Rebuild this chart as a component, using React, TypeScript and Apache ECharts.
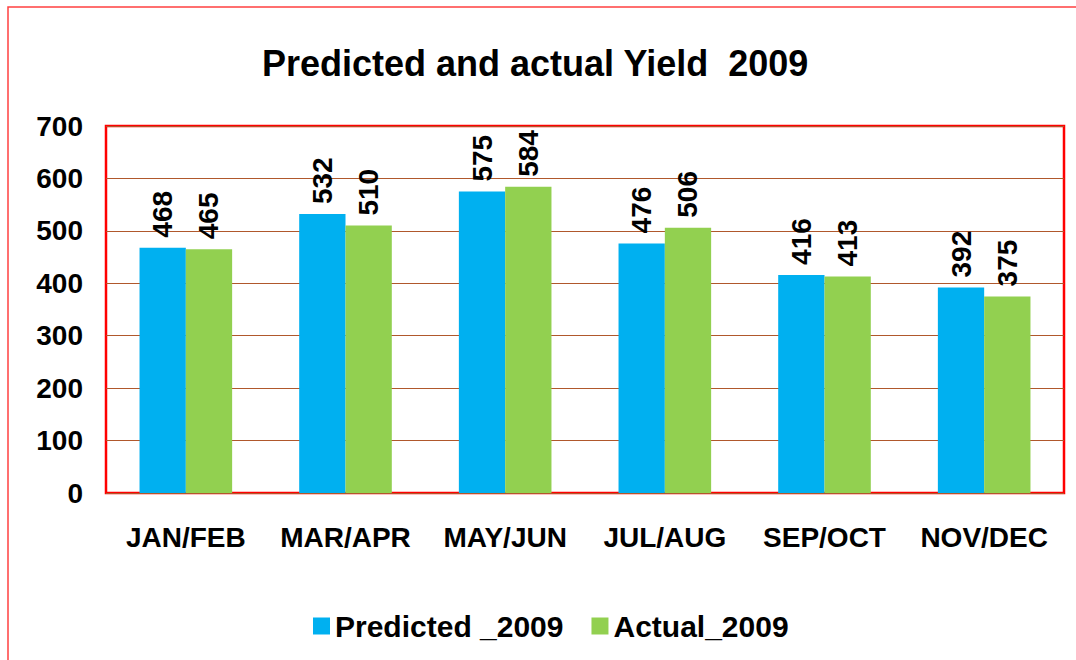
import React, { useEffect, useRef } from "react";
import * as echarts from "echarts";

const categories = ["JAN/FEB", "MAR/APR", "MAY/JUN", "JUL/AUG", "SEP/OCT", "NOV/DEC"];
const predicted = [468, 532, 575, 476, 416, 392];
const actual = [465, 510, 584, 506, 413, 375];
const seriesNames = ["Predicted _2009", "Actual_2009"];
const titleText = "Predicted and actual Yield  2009";

const FONT = "Arial, 'Liberation Sans', sans-serif";

export default function App() {
  const ref = useRef<HTMLDivElement>(null);
  useEffect(() => {
    if (!ref.current) return;
    const chart = echarts.init(ref.current, undefined, { renderer: "svg" });
    const label = {
      show: true,
      position: "top",
      rotate: 90,
      align: "left",
      verticalAlign: "middle",
      distance: 10,
      fontSize: 28,
      fontWeight: "bold",
      fontFamily: FONT,
      color: "#000",
    };
    chart.setOption({
      animation: false,
      backgroundColor: "#fff",
      title: {
        text: titleText,
        left: 257,
        top: 40,
        textStyle: { fontSize: 36, fontWeight: "bold", fontFamily: FONT, color: "#000" },
      },
      graphic: [
        {
          type: "rect",
          shape: { x: 8, y: 7, width: 3000, height: 3000 },
          style: { fill: "none", stroke: "#ff4040", lineWidth: 1.5 },
          silent: true,
        },
      ],
      legend: {
        data: seriesNames,
        left: 308,
        top: 606,
        itemWidth: 17,
        itemHeight: 17,
        itemGap: 28,
        icon: "rect",
        textStyle: { fontSize: 30, fontWeight: "bold", fontFamily: FONT, color: "#000" },
      },
      grid: {
        left: 106,
        top: 126,
        right: 12,
        bottom: 167,
        show: true,
        borderColor: "#ff0000",
        borderWidth: 2.5,
        containLabel: false,
      },
      xAxis: {
        type: "category",
        data: categories,
        axisLine: { show: false },
        axisTick: { show: false },
        axisLabel: { interval: 0, fontSize: 28, fontWeight: "bold", fontFamily: FONT, color: "#000", margin: 30 },
      },
      yAxis: {
        type: "value",
        min: 0,
        max: 700,
        interval: 100,
        axisLine: { show: false },
        axisTick: { show: false },
        axisLabel: { fontSize: 28, fontWeight: "bold", fontFamily: FONT, color: "#000", margin: 23 },
        splitLine: { lineStyle: { color: "#b0582c", width: 1 } },
      },
      series: [
        {
          name: seriesNames[0],
          type: "bar",
          data: predicted,
          itemStyle: { color: "#00b0f0" },
          barGap: "0%",
          barCategoryGap: "42%",
          label,
        },
        {
          name: seriesNames[1],
          type: "bar",
          data: actual,
          itemStyle: { color: "#92d050" },
          barGap: "0%",
          barCategoryGap: "42%",
          label,
        },
      ],
    });
    return () => chart.dispose();
  }, []);
  return (
    <div
      ref={ref}
      style={{ position: "fixed", left: 0, top: 0, width: 1076, height: 660 }}
    />
  );
}
